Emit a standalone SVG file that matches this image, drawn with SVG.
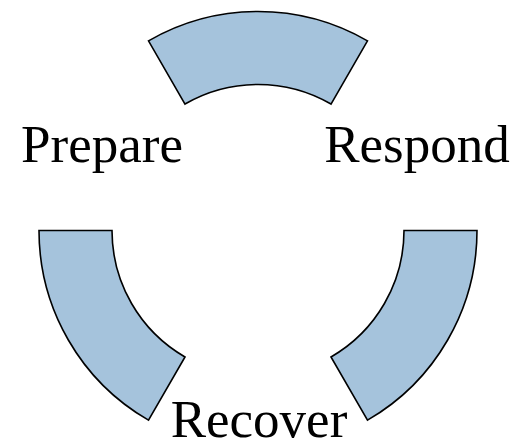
<svg xmlns="http://www.w3.org/2000/svg" width="518" height="446" viewBox="0 0 518 446">
  <style>
    .seg { fill: #a5c3dc; stroke: #000000; stroke-width: 1.6; stroke-linejoin: miter; }
    .lbl { font-family: "Liberation Serif", "Times New Roman", serif; font-size: 53px; fill: #000000; text-anchor: middle; }
  </style>
  <rect x="0" y="0" width="518" height="446" fill="#ffffff"/>
  <g id="connectors"></g>
  <g id="node-top">
    <path class="seg" d="M148.5,40.84 A219,219 0 0 1 367.5,40.84 L331,104.06 A146,146 0 0 0 185,104.06 Z"/>
  </g>
  <g id="node-left">
    <path class="seg" d="M39,230.5 L112,230.5 A146,146 0 0 0 185,356.94 L148.5,420.16 A219,219 0 0 1 39,230.5 Z"/>
  </g>
  <g id="node-right">
    <path class="seg" d="M404,230.5 L477,230.5 A219,219 0 0 1 367.5,420.16 L331,356.94 A146,146 0 0 0 404,230.5 Z"/>
  </g>
  <g id="label-prepare">
    <text class="lbl" x="102" y="161.5">Prepare</text>
  </g>
  <g id="label-respond">
    <text class="lbl" x="417" y="161.5">Respond</text>
  </g>
  <g id="label-recover">
    <text class="lbl" x="259" y="436.5">Recover</text>
  </g>
</svg>
